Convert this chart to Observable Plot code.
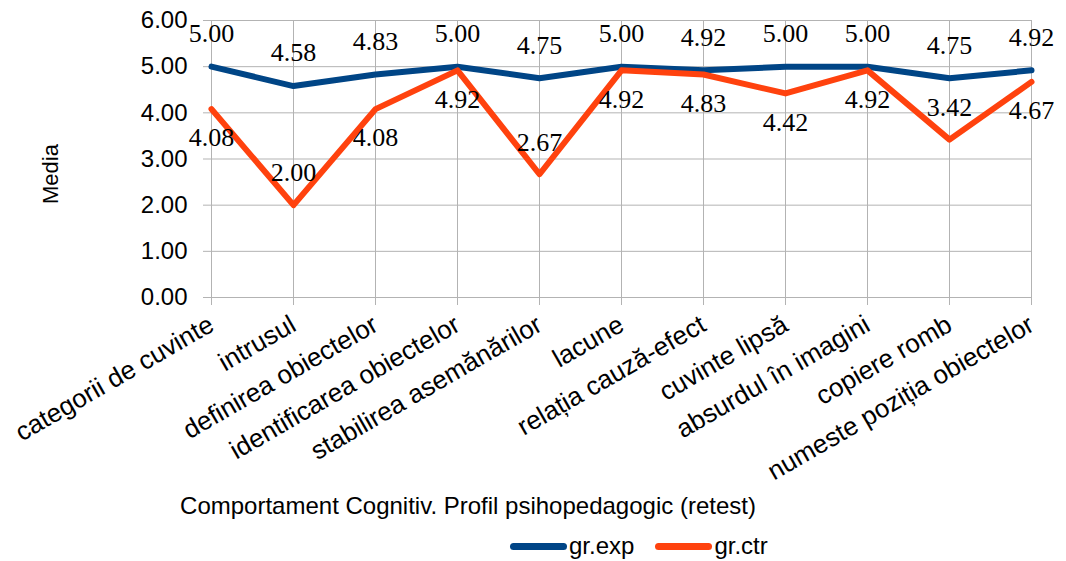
<!DOCTYPE html>
<html>
<head>
<meta charset="utf-8">
<script src="https://cdn.jsdelivr.net/npm/d3@7"></script>
<script src="https://cdn.jsdelivr.net/npm/@observablehq/plot@0.6"></script>
<style>
  html, body { margin: 0; padding: 0; background: #fff; overflow: hidden; }
  body { width: 1066px; height: 561px; font-family: "Liberation Sans", Arial, sans-serif; }
  #xtitle { width: 936px; height: 32px; line-height: 32px; text-align: center; font-size: 24px; color: #000; white-space: nowrap; }
  #legend { height: 39px; display: flex; align-items: center; padding-left: 510px; padding-top: 9px; box-sizing: border-box; font-size: 24px; color: #000; }
  .sw { display: inline-block; width: 57px; height: 7px; border-radius: 4px; margin-right: 2px; }
  .item { display: flex; align-items: center; margin-right: 21px; }
</style>
</head>
<body>
<div id="chart"></div>
<div id="xtitle"></div>
<div id="legend"></div>
<script>
const categories = [
  "categorii de cuvinte", "intrusul", "definirea obiectelor", "identificarea obiectelor",
  "stabilirea asemănărilor", "lacune", "relația cauză-efect", "cuvinte lipsă",
  "absurdul în imagini", "copiere romb", "numeste poziția obiectelor"
];
const expValues = [5.00, 4.58, 4.83, 5.00, 4.75, 5.00, 4.92, 5.00, 5.00, 4.75, 4.92];
const ctrValues = [4.08, 2.00, 4.08, 4.92, 2.67, 4.92, 4.83, 4.42, 4.92, 3.42, 4.67];
const seriesNames = ["gr.exp", "gr.ctr"];
const seriesColors = ["#004586", "#ff420e"];
const yTicks = [0, 1, 2, 3, 4, 5, 6];
const yLabel = "Media";
const xTitle = "Comportament Cognitiv. Profil psihopedagogic (retest)";

const expData = categories.map((c, i) => ({cat: c, series: seriesNames[0], value: expValues[i]}));
const ctrData = categories.map((c, i) => ({cat: c, series: seriesNames[1], value: ctrValues[i]}));

const sans = "'Liberation Sans', Arial, sans-serif";
const serif = "'Liberation Serif', 'Times New Roman', serif";
const fmt = d3.format(".2f");

const chart = Plot.plot({
  width: 1066,
  height: 490,
  marginLeft: 210,
  marginRight: 34,
  marginTop: 20,
  marginBottom: 193,
  style: {fontFamily: sans, background: "#fff", color: "#000", overflow: "visible"},
  x: {type: "point", domain: categories, padding: 0},
  y: {domain: [0, 6]},
  color: {domain: seriesNames, range: seriesColors},
  marks: [
    Plot.gridY(yTicks, {stroke: "#b3b3b3", strokeOpacity: 1}),
    Plot.gridX(categories, {stroke: "#b3b3b3", strokeOpacity: 1}),
    Plot.axisY(yTicks, {tickSize: 7, tickPadding: 16, tickFormat: fmt, fontSize: 24, label: null, stroke: "#b3b3b3", fill: "#000"}),
    Plot.axisX(categories, {tickSize: 8, fill: "none", stroke: "#b3b3b3", label: null}),
    Plot.axisX(categories, {tickSize: 0, tickRotate: -30, tickPadding: 25, dx: 0, fontSize: 26, label: null, fill: "#000"}),
    Plot.text([yLabel], {frameAnchor: "left", textAnchor: "middle", dx: -160, dy: 15, rotate: -90, fontSize: 22, fill: "#000"}),
    Plot.line(expData, {x: "cat", y: "value", stroke: "series", strokeWidth: 6, strokeLinejoin: "round", strokeLinecap: "round"}),
    Plot.line(ctrData, {x: "cat", y: "value", stroke: "series", strokeWidth: 6, strokeLinejoin: "round", strokeLinecap: "round"}),
    Plot.text(expData, {x: "cat", y: "value", text: d => fmt(d.value), dy: -33, fontSize: 26, fontFamily: serif, fill: "#000"}),
    Plot.text(ctrData, {x: "cat", y: "value", filter: d => d.value >= 4, text: d => fmt(d.value), dy: 29, fontSize: 26, fontFamily: serif, fill: "#000"}),
    Plot.text(ctrData, {x: "cat", y: "value", filter: d => d.value < 4, text: d => fmt(d.value), dy: -32, fontSize: 26, fontFamily: serif, fill: "#000"})
  ]
});
document.getElementById("chart").appendChild(chart);
document.getElementById("xtitle").textContent = xTitle;
const legend = document.getElementById("legend");
seriesNames.forEach((name, i) => {
  const item = document.createElement("span");
  item.className = "item";
  const sw = document.createElement("span");
  sw.className = "sw";
  sw.style.background = seriesColors[i];
  item.appendChild(sw);
  item.appendChild(document.createTextNode(name));
  legend.appendChild(item);
});
</script>
</body>
</html>
